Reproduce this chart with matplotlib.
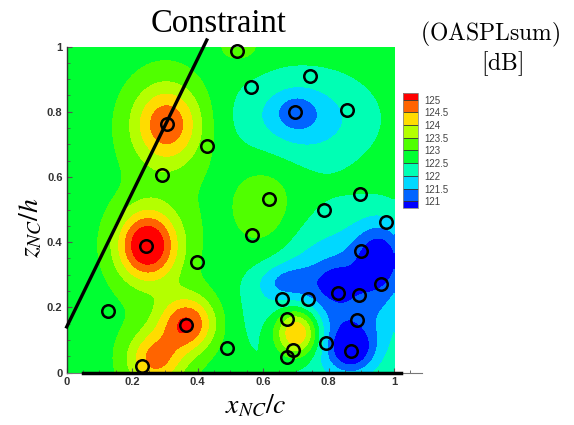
import numpy as np
import matplotlib
matplotlib.use("Agg")
import matplotlib.pyplot as plt
from matplotlib.colors import ListedColormap, BoundaryNorm

# sample locations (circles)
sample_x = [0.521, 0.563, 0.743, 0.698, 0.857, 0.307, 0.430, 0.292, 0.617, 0.895,
            0.787, 0.977, 0.565, 0.243, 0.398, 0.900, 0.961, 0.829, 0.892, 0.659,
            0.738, 0.125, 0.672, 0.888, 0.366, 0.793, 0.489, 0.690, 0.868, 0.674, 0.229]
sample_z = [0.987, 0.875, 0.909, 0.800, 0.805, 0.763, 0.695, 0.607, 0.531, 0.549,
            0.498, 0.461, 0.421, 0.388, 0.339, 0.372, 0.271, 0.243, 0.238, 0.227,
            0.226, 0.190, 0.165, 0.162, 0.146, 0.090, 0.074, 0.068, 0.067, 0.048, 0.021]

# OASPL surface: background level plus hot / cold spots
base_level = 122.75
spot_x   = [0.307, 0.245, 0.370, 0.270, 0.290, 0.610, 0.530, 0.705, 0.700, 0.720, 0.820, 0.870, 0.960, 0.820, 0.660]
spot_z   = [0.763, 0.390, 0.150, 0.040, 0.420, 0.490, 1.000, 0.125, 0.800, 0.780, 0.220, 0.070, 0.360, 0.280, 0.280]
spot_amp = [1.95, 2.60, 2.10, 1.70, 0.35, 0.65, 0.45, 2.70, -0.65, -1.10, -1.60, -1.60, -1.50, -0.60, -0.70]
spot_wx  = [0.075, 0.065, 0.060, 0.060, 0.110, 0.075, 0.050, 0.050, 0.045, 0.140, 0.160, 0.050, 0.060, 0.040, 0.060]
spot_wz  = [0.085, 0.075, 0.060, 0.060, 0.350, 0.120, 0.040, 0.055, 0.040, 0.095, 0.160, 0.050, 0.080, 0.040, 0.040]

constraint_x = [0.0, 0.428]
constraint_z = [0.14, 1.02]

levels = [121, 121.5, 122, 122.5, 123, 123.5, 124, 124.5, 125]
level_colors = ["#0000ff", "#0064ff", "#00d8ff", "#00ffb4", "#00ff32",
                "#50ff00", "#b4ff00", "#ffdc00", "#ff6400", "#ff0000"]

xg, zg = np.meshgrid(np.linspace(0, 1, 301), np.linspace(0, 1, 301))
field = np.full_like(xg, base_level)
for cx, cz, a, wx, wz in zip(spot_x, spot_z, spot_amp, spot_wx, spot_wz):
    field += a * np.exp(-((xg - cx) ** 2 / (2 * wx ** 2) + (zg - cz) ** 2 / (2 * wz ** 2)))

fig = plt.figure(figsize=(5.74, 4.25), dpi=100)
ax = fig.add_axes([0.1162, 0.1235, 0.6187, 0.767])

cmap = ListedColormap(level_colors[1:-1])
cmap.set_under(level_colors[0])
cmap.set_over(level_colors[-1])
norm = BoundaryNorm(levels, cmap.N)
cf = ax.contourf(xg, zg, field, levels=levels, cmap=cmap, norm=norm, extend="both")

ax.plot(constraint_x, constraint_z, color="black", lw=2.4, clip_on=False, zorder=4)
ax.plot(sample_x, sample_z, "o", mfc="none", mec="black", ms=9, mew=1.8,
        clip_on=False, zorder=5)
# surface line along z = 0
ax.plot([0.05, 1.02], [0, 0], color="black", lw=2.5, clip_on=False, zorder=6)

ax.set_xlim(0, 1.085)
ax.set_ylim(0, 1)
ax.set_xticks([0, 0.2, 0.4, 0.6, 0.8, 1])
ax.set_xticklabels(["0", "0.2", "0.4", "0.6", "0.8", "1"])
ax.set_yticks([0, 0.2, 0.4, 0.6, 0.8, 1])
ax.set_yticklabels(["0", "0.2", "0.4", "0.6", "0.8", "1"])
ax.set_xticks(np.arange(0, 1.06, 0.05), minor=True)
ax.set_yticks(np.arange(0, 1.01, 0.05), minor=True)
ax.tick_params(direction="in", length=3.5, width=0.8, color="#555555",
               labelsize=8, labelcolor="#333333", pad=3)
ax.tick_params(which="minor", direction="in", length=2, width=0.6, color="#555555")
for lab in ax.get_xticklabels() + ax.get_yticklabels():
    lab.set_fontfamily("Liberation Sans")
    lab.set_fontweight("bold")
ax.spines["top"].set_visible(False)
ax.spines["right"].set_visible(False)
ax.spines["bottom"].set_color("#777777")
ax.spines["left"].set_color("#333333")
ax.spines["left"].set_linewidth(1.0)
ax.set_facecolor("none")

# legend bar
cax = fig.add_axes([0.7016, 0.5099, 0.0272, 0.272])
cb = fig.colorbar(cf, cax=cax, extend="both", extendrect=True, extendfrac=0.07,
                  drawedges=True, ticks=levels)
cb.ax.set_yticklabels(["%g" % v for v in levels])
cb.ax.tick_params(length=0, labelsize=7, labelcolor="#444444", pad=4)
for lab in cb.ax.get_yticklabels():
    lab.set_fontfamily("Liberation Sans")
cb.outline.set_edgecolor("#888888")
cb.outline.set_linewidth(0.6)
cb.dividers.set_color("#333333")
cb.dividers.set_linewidth(0.6)

fig.text(0.380, 1 - 32 / 425, "Constraint", ha="center", va="baseline",
         fontsize=23.5, family="Liberation Serif")
fig.text(490 / 574, 1 - 40 / 425, r"$\mathrm{(OASPLsum)}$", ha="center", va="baseline",
         fontsize=17, math_fontfamily="cm")
fig.text(502 / 574, 1 - 70 / 425, r"$\mathrm{[dB]}$", ha="center", va="baseline",
         fontsize=17, math_fontfamily="cm")
fig.text(256 / 574, 1 - 413 / 425, r"$x_{NC}/c$", ha="center", va="baseline",
         fontsize=20, math_fontfamily="stix")
fig.text(30 / 574, 1 - 228 / 425, r"$z_{NC}/h$", ha="center", va="center",
         rotation=90, fontsize=20, math_fontfamily="stix")

fig.savefig("out.png", dpi=100)
